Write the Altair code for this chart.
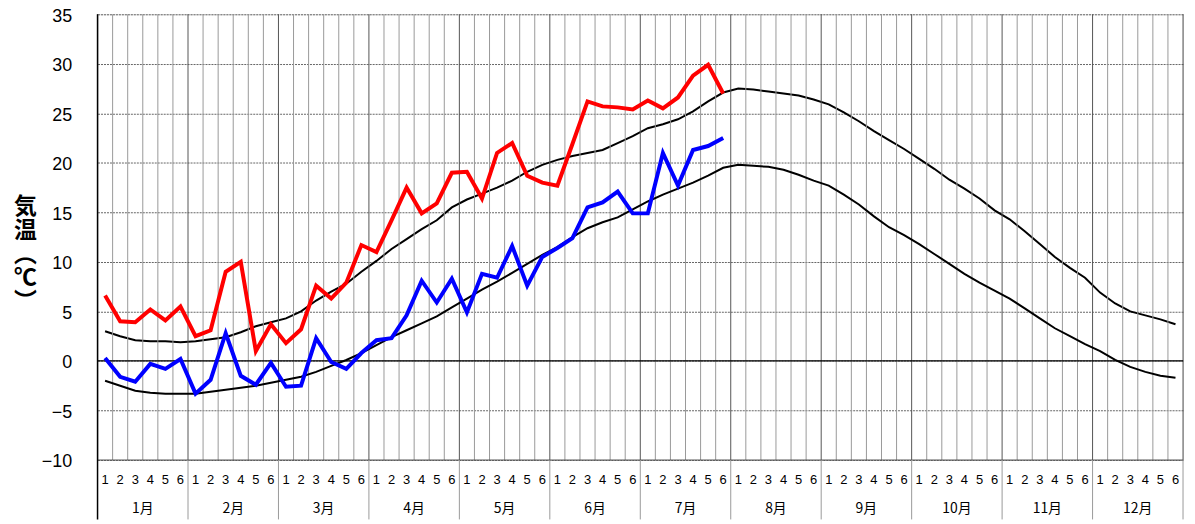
import altair as alt
import pandas as pd

# ---- data (pentad index 0..71: 6 pentads per month) ----
obs_max = [6.6, 4.0, 3.9, 5.2, 4.1, 5.5, 2.5, 3.1, 9.0, 10.0,
           1.0, 3.7, 1.8, 3.2, 7.6, 6.3, 7.9, 11.7, 11.0, 14.2,
           17.5, 14.9, 15.9, 19.0, 19.1, 16.4, 21.0, 22.0, 18.7, 18.0,
           17.7, 21.9, 26.2, 25.7, 25.6, 25.4, 26.3, 25.5, 26.6, 28.8,
           29.9, 27.0]
obs_min = [0.3, -1.6, -2.1, -0.3, -0.8, 0.2, -3.3, -1.9, 2.8, -1.5,
           -2.4, -0.2, -2.6, -2.5, 2.3, -0.1, -0.8, 0.8, 2.1, 2.3,
           4.6, 8.1, 5.9, 8.3, 4.9, 8.8, 8.4, 11.6, 7.6, 10.5,
           11.4, 12.4, 15.5, 16.0, 17.1, 14.9, 14.9, 21.0, 17.7, 21.3,
           21.7, 22.5]
norm_max = [3.0, 2.5, 2.1, 2.0, 2.0, 1.9, 2.0, 2.2, 2.4, 2.9,
            3.5, 3.9, 4.3, 5.0, 6.1, 7.0, 7.8, 9.0, 10.1, 11.3,
            12.3, 13.3, 14.2, 15.5, 16.3, 16.9, 17.5, 18.2, 19.1, 19.8,
            20.3, 20.7, 21.0, 21.3, 22.0, 22.7, 23.5, 23.9, 24.4, 25.2,
            26.2, 27.1, 27.5, 27.4, 27.2, 27.0, 26.8, 26.4, 25.9, 25.1,
            24.2, 23.2, 22.3, 21.4, 20.4, 19.4, 18.3, 17.4, 16.4, 15.2,
            14.3, 13.1, 11.8, 10.5, 9.4, 8.4, 6.9, 5.8, 5.0, 4.6,
            4.2, 3.7]
norm_min = [-2.0, -2.5, -3.0, -3.2, -3.3, -3.3, -3.3, -3.1, -2.9, -2.7,
            -2.5, -2.2, -1.9, -1.6, -1.1, -0.5, 0.1, 0.8, 1.6, 2.4,
            3.1, 3.8, 4.5, 5.4, 6.3, 7.2, 8.0, 8.9, 9.8, 10.7,
            11.5, 12.5, 13.4, 14.0, 14.5, 15.3, 16.1, 16.8, 17.4, 18.0,
            18.7, 19.5, 19.8, 19.7, 19.6, 19.3, 18.8, 18.2, 17.7, 16.8,
            15.8, 14.6, 13.5, 12.7, 11.8, 10.8, 9.8, 8.8, 7.9, 7.1,
            6.3, 5.3, 4.3, 3.3, 2.5, 1.7, 1.0, 0.1, -0.6, -1.1,
            -1.5, -1.7]
months = ["1月", "2月", "3月", "4月", "5月", "6月",
          "7月", "8月", "9月", "10月", "11月", "12月"]
pentad_names = ["1", "2", "3", "4", "5", "6"]
y_ticks = [-10, -5, 0, 5, 10, 15, 20, 25, 30, 35]
y_title = ["気", "温", "︵", "℃", "︶"]

# ---- derived tables ----
y_top, y_bot = max(y_ticks), min(y_ticks)
n_p = 6 * len(months)
df_obs = pd.DataFrame({"x": [i + 0.5 for i in range(len(obs_max))],
                       "max": obs_max, "min": obs_min})
df_norm = pd.DataFrame({"x": [i + 0.5 for i in range(len(norm_max))],
                        "max": norm_max, "min": norm_min})
bounds = list(range(n_p + 1))
df_bound = pd.DataFrame({"b": bounds, "y1": y_top, "y2": y_bot,
                         "kind": ["month" if b % 6 == 0 else "pentad" for b in bounds]})
df_hline = pd.DataFrame({"x1": [0, 0], "x2": [n_p, n_p], "y": [y_bot, 0],
                         "kind": ["bottom", "zero"]})
df_msep = pd.DataFrame({"b": [m * 6 for m in range(1, 13)], "y1": y_bot, "y2": -16})
df_left = pd.DataFrame({"b": [0], "y1": [y_top], "y2": [-16]})
df_pent = pd.DataFrame({"x": [m * 6 + p + 0.5 for m in range(12) for p in range(6)],
                        "label": [pentad_names[p] for m in range(12) for p in range(6)],
                        "y": -12})
df_month = pd.DataFrame({"x": [m * 6 + 3 for m in range(12)], "label": months,
                         "y": -14.9})

xs = alt.Scale(domain=[0, n_p], nice=False, zero=False)
ys = alt.Scale(domain=[y_bot, y_top], nice=False, zero=False)


def X(f):
    return alt.X(f, type="quantitative", scale=xs, axis=None)


def Y(f, **kw):
    return alt.Y(f, type="quantitative", scale=ys, **kw)


yaxis = alt.Axis(values=y_ticks, grid=True, gridColor="#666", gridDash=[2, 1],
                 gridWidth=1, ticks=False, domain=False,
                 labelFont="Liberation Sans", labelFontSize=18, labelColor="black",
                 labelPadding=26, labelOffset=2,
                 title=y_title, titleAngle=0, titleX=-73, titleY=193,
                 titleAlign="center", titleBaseline="middle",
                 titleFont="Noto Sans CJK JP", titleFontSize=23, titleFontWeight="bold",
                 titleLineHeight=24, titleColor="black")

nmax = alt.Chart(df_norm).mark_line(color="black", strokeWidth=2).encode(
    x=X("x"), y=Y("max", axis=yaxis))
nmin = alt.Chart(df_norm).mark_line(color="black", strokeWidth=2).encode(
    x=X("x"), y=Y("min"))
omax = alt.Chart(df_obs).mark_line(color="#ff0000", strokeWidth=4).encode(
    x=X("x"), y=Y("max"))
omin = alt.Chart(df_obs).mark_line(color="#0000ff", strokeWidth=4).encode(
    x=X("x"), y=Y("min"))

grid_v = alt.Chart(df_bound).mark_rule(strokeWidth=1).encode(
    x=X("b"), y=Y("y1"), y2="y2",
    color=alt.Color("kind:N", scale=alt.Scale(domain=["month", "pentad"],
                                              range=["#555555", "#999999"]), legend=None),
)

hlines = alt.Chart(df_hline).mark_rule().encode(
    x=X("x1"), x2="x2", y=Y("y"),
    stroke=alt.Stroke("kind:N", scale=alt.Scale(domain=["bottom", "zero"],
                                                range=["#555555", "#000000"]), legend=None),
    strokeWidth=alt.StrokeWidth("kind:N", scale=alt.Scale(domain=["bottom", "zero"],
                                                          range=[1, 1.3]), legend=None),
)

month_sep = alt.Chart(df_msep).mark_rule(color="#999", strokeWidth=1).encode(
    x=X("b"), y=Y("y1"), y2="y2")

left_axis = alt.Chart(df_left).mark_rule(color="black", strokeWidth=1.5).encode(
    x=X("b"), y=Y("y1"), y2="y2")

pent_text = alt.Chart(df_pent).mark_text(font="Liberation Sans", fontSize=13,
                                         color="black", baseline="middle").encode(
    x=X("x"), y=Y("y"), text="label:N")

month_text = alt.Chart(df_month).mark_text(font="Noto Sans CJK JP", fontSize=14,
                                           color="black", baseline="middle").encode(
    x=X("x"), y=Y("y"), text="label:N")

chart = alt.layer(nmax, grid_v, hlines, month_sep, nmin, omax, omin,
                  left_axis, pent_text, month_text).properties(
    width=1091, height=448,
    padding={"left": 90, "top": 5, "right": 4, "bottom": 60},
    autosize=alt.AutoSizeParams(type="none"),
).configure_view(stroke=None).configure(background="white")

chart.save("out.html", embed_options={"renderer": "svg", "actions": False})
